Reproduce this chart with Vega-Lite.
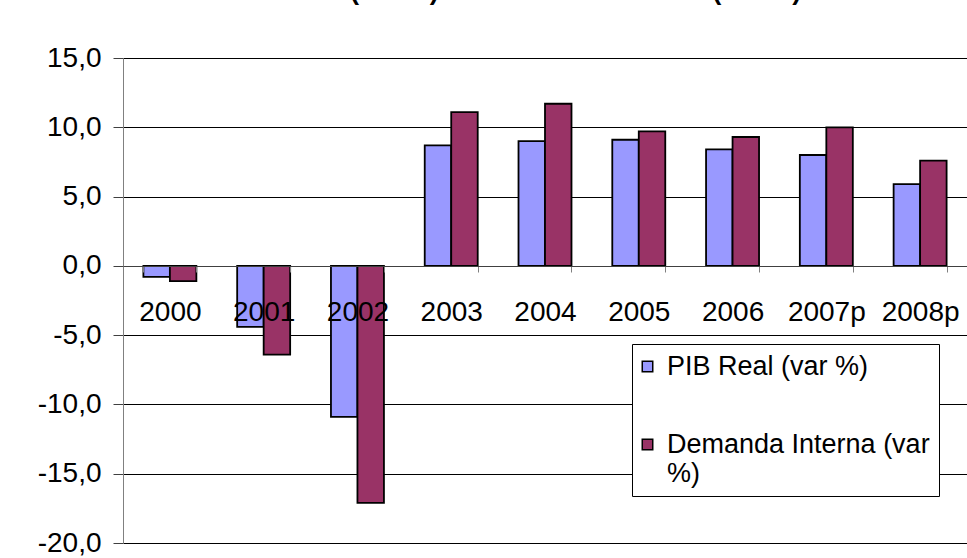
{
  "$schema": "https://vega.github.io/schema/vega-lite/v6.json",
  "width": 844,
  "height": 485,
  "autosize": "none",
  "padding": {"left": 123, "top": 58, "right": 0, "bottom": 15},
  "background": "white",
  "title": {
    "text": "PIB Real (var %) vs. Demanda Interna (var %)",
    "anchor": "end",
    "frame": "group",
    "offset": 39,
    "dx": -166,
    "fontSize": 26.5,
    "fontWeight": "bold",
    "font": "Liberation Sans",
    "color": "black"
  },
  "data": {
    "values": [
      {"anio": "2000", "serie": "PIB Real (var %)", "valor": -0.8},
      {"anio": "2000", "serie": "Demanda Interna (var %)", "valor": -1.1},
      {"anio": "2001", "serie": "PIB Real (var %)", "valor": -4.4},
      {"anio": "2001", "serie": "Demanda Interna (var %)", "valor": -6.4},
      {"anio": "2002", "serie": "PIB Real (var %)", "valor": -10.9},
      {"anio": "2002", "serie": "Demanda Interna (var %)", "valor": -17.1},
      {"anio": "2003", "serie": "PIB Real (var %)", "valor": 8.7},
      {"anio": "2003", "serie": "Demanda Interna (var %)", "valor": 11.1},
      {"anio": "2004", "serie": "PIB Real (var %)", "valor": 9.0},
      {"anio": "2004", "serie": "Demanda Interna (var %)", "valor": 11.7},
      {"anio": "2005", "serie": "PIB Real (var %)", "valor": 9.1},
      {"anio": "2005", "serie": "Demanda Interna (var %)", "valor": 9.7},
      {"anio": "2006", "serie": "PIB Real (var %)", "valor": 8.4},
      {"anio": "2006", "serie": "Demanda Interna (var %)", "valor": 9.3},
      {"anio": "2007p", "serie": "PIB Real (var %)", "valor": 8.0},
      {"anio": "2007p", "serie": "Demanda Interna (var %)", "valor": 10.0},
      {"anio": "2008p", "serie": "PIB Real (var %)", "valor": 5.9},
      {"anio": "2008p", "serie": "Demanda Interna (var %)", "valor": 7.6}
    ]
  },
  "mark": {"type": "bar", "stroke": "black", "strokeWidth": 1.8},
  "encoding": {
    "x": {
      "field": "anio",
      "type": "nominal",
      "sort": null,
      "scale": {"paddingInner": 0.435, "paddingOuter": 0.2175},
      "axis": {
        "title": null,
        "orient": "bottom",
        "offset": -277,
        "labelAngle": 0,
        "tickBand": "extent",
        "tickSize": 6,
        "tickColor": "#808080",
        "domainColor": "#404040",
        "labelPadding": 26,
        "labelFontSize": 28,
        "labelFont": "Liberation Sans",
        "labelColor": "black",
        "grid": false,
        "zindex": 1
      }
    },
    "xOffset": {
      "field": "serie",
      "type": "nominal",
      "sort": ["PIB Real (var %)", "Demanda Interna (var %)"],
      "scale": {"paddingInner": 0, "paddingOuter": 0}
    },
    "y": {
      "field": "valor",
      "type": "quantitative",
      "scale": {"domain": [-20, 15], "nice": false, "zero": false},
      "axis": {
        "title": null,
        "values": [-20, -15, -10, -5, 0, 5, 10, 15],
        "labelExpr": "(datum.value < 0 ? '-' : '') + replace(format(abs(datum.value), '.1f'), '.', ',')",
        "labelFontSize": 28,
        "labelFont": "Liberation Sans",
        "labelColor": "black",
        "labelPadding": 12,
        "tickSize": 10,
        "tickColor": "#404040",
        "domainColor": "#808080",
        "grid": true,
        "gridColor": "black",
        "gridWidth": 1,
        "gridOpacity": 1,
        "zindex": 0
      }
    },
    "fill": {
      "field": "serie",
      "type": "nominal",
      "scale": {
        "domain": ["PIB Real (var %)", "Demanda Interna (var %)"],
        "range": ["#9999FF", "#993366"]
      },
      "legend": {
        "title": null,
        "orient": "none",
        "legendX": 509,
        "legendY": 286,
        "direction": "vertical",
        "symbolType": "square",
        "symbolSize": 110,
        "symbolStrokeColor": "black",
        "symbolStrokeWidth": 1.5,
        "symbolOpacity": 1,
        "symbolOffset": -7,
        "labelFontSize": 27,
        "labelFont": "Liberation Sans",
        "labelColor": "black",
        "labelLimit": 400,
        "labelOffset": 6,
        "padding": 9,
        "strokeColor": "black",
        "fillColor": "white",
        "rowPadding": 50,
        "labelExpr": "datum.label == 'Demanda Interna (var %)' ? ['Demanda Interna (var', '%)'] : datum.label"
      }
    }
  },
  "config": {"view": {"stroke": null}}
}
